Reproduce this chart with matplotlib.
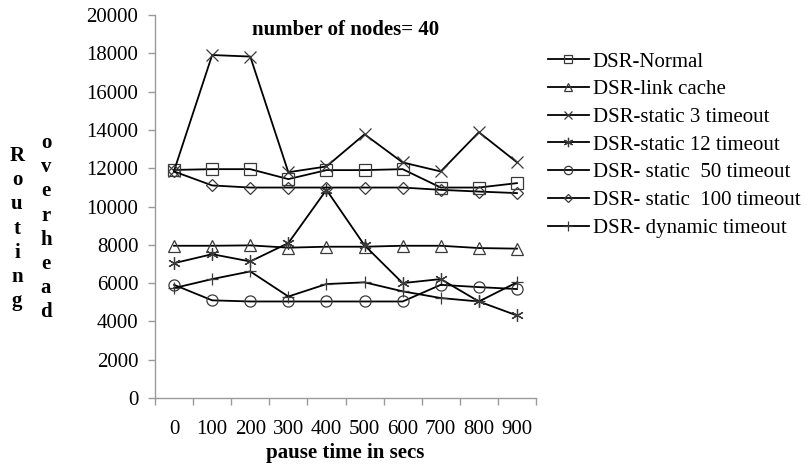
import matplotlib
matplotlib.use("Agg")
import matplotlib.pyplot as plt
from matplotlib.ticker import FixedLocator, NullFormatter

categories = ["0", "100", "200", "300", "400", "500", "600", "700", "800", "900"]
series_names = ["DSR-Normal", "DSR-link cache", "DSR-static 3 timeout",
                "DSR-static 12 timeout", "DSR- static  50 timeout",
                "DSR- static  100 timeout", "DSR- dynamic timeout"]
dsr_normal = [11910, 11950, 11950, 11430, 11900, 11900, 11950, 10990, 10990, 11220]
dsr_link_cache = [7950, 7950, 7970, 7850, 7900, 7900, 7950, 7950, 7830, 7800]
dsr_static_3 = [11860, 17910, 17830, 11790, 12090, 13770, 12300, 11830, 13880, 12310]
dsr_static_12 = [7040, 7510, 7130, 8090, 10870, 7970, 6000, 6210, 5040, 4310]
dsr_static_50 = [5910, 5100, 5040, 5040, 5040, 5040, 5040, 5910, 5790, 5690]
dsr_static_100 = [11830, 11100, 10990, 10990, 10990, 10990, 10990, 10870, 10780, 10700]
dsr_dynamic = [5740, 6210, 6610, 5300, 5950, 6040, 5570, 5220, 5040, 6040]
y_ticks = list(range(0, 20001, 2000))

series = [dsr_normal, dsr_link_cache, dsr_static_3, dsr_static_12,
          dsr_static_50, dsr_static_100, dsr_dynamic]
markers = ["s", "^", "x", (6, 2, 0), "o", "D", "+"]
msizes = [8, 8, 8, 9, 8, 6, 9]

FONT = "Liberation Serif"
plt.rcParams["font.family"] = [FONT, "DejaVu Serif"]

W, H = 809, 465
fig = plt.figure(figsize=(W / 100, H / 100), dpi=100)
ax = fig.add_axes([155 / W, (H - 398) / H, (536 - 155) / W, (398 - 15) / H])

x = list(range(len(categories)))
for name, vals, m, ms in zip(series_names, series, markers, msizes):
    ax.plot(x, vals, color="black", lw=1.3, marker=m, markersize=ms,
            markerfacecolor="none", markeredgecolor="#3a3a3a",
            markeredgewidth=0.9, label=name)

ax.set_xlim(-0.5, len(categories) - 0.5)
ax.set_ylim(0, 20000)
ax.set_yticks(y_ticks)
ax.set_yticklabels([str(v) for v in y_ticks])
ax.set_xticks(x)
ax.set_xticklabels(categories)
ax.xaxis.set_minor_locator(FixedLocator([i - 0.5 for i in range(len(categories) + 1)]))
ax.xaxis.set_minor_formatter(NullFormatter())

for s in ["top", "right"]:
    ax.spines[s].set_visible(False)
for s in ["left", "bottom"]:
    ax.spines[s].set_color("#9a9a9a")
    ax.spines[s].set_linewidth(1.0)

ax.tick_params(axis="y", which="major", direction="out", length=5, width=1.0,
               color="#9a9a9a", labelsize=15, pad=7)
ax.tick_params(axis="x", which="major", length=0, labelsize=15, pad=16)
ax.tick_params(axis="x", which="minor", direction="out", length=5, width=1.0,
               color="#9a9a9a")

ax.text(0.5, 0.962, "number of nodes= 40", transform=ax.transAxes,
        ha="center", va="center", fontsize=15, fontweight="bold")

fig.text(345 / W, 1 - 453 / H, "pause time in secs", ha="center", va="center",
         fontsize=15, fontweight="bold")

# stacked y label letters
for i, ch in enumerate("Routing"):
    fig.text(17 / W, 1 - (156 + i * 24.2) / H, ch, ha="center", va="center",
             fontsize=15, fontweight="bold")
for i, ch in enumerate("overhead"):
    fig.text(46 / W, 1 - (143 + i * 24.2) / H, ch, ha="center", va="center",
             fontsize=15, fontweight="bold")

leg = ax.legend(loc="upper left", bbox_to_anchor=(548 / W, 1 - 52 / H),
                bbox_transform=fig.transFigure, frameon=False, fontsize=15,
                handlelength=1.95, handletextpad=0.2, labelspacing=0.39,
                borderpad=0, borderaxespad=0, markerscale=0.75)

fig.savefig("out.png", dpi=100)
